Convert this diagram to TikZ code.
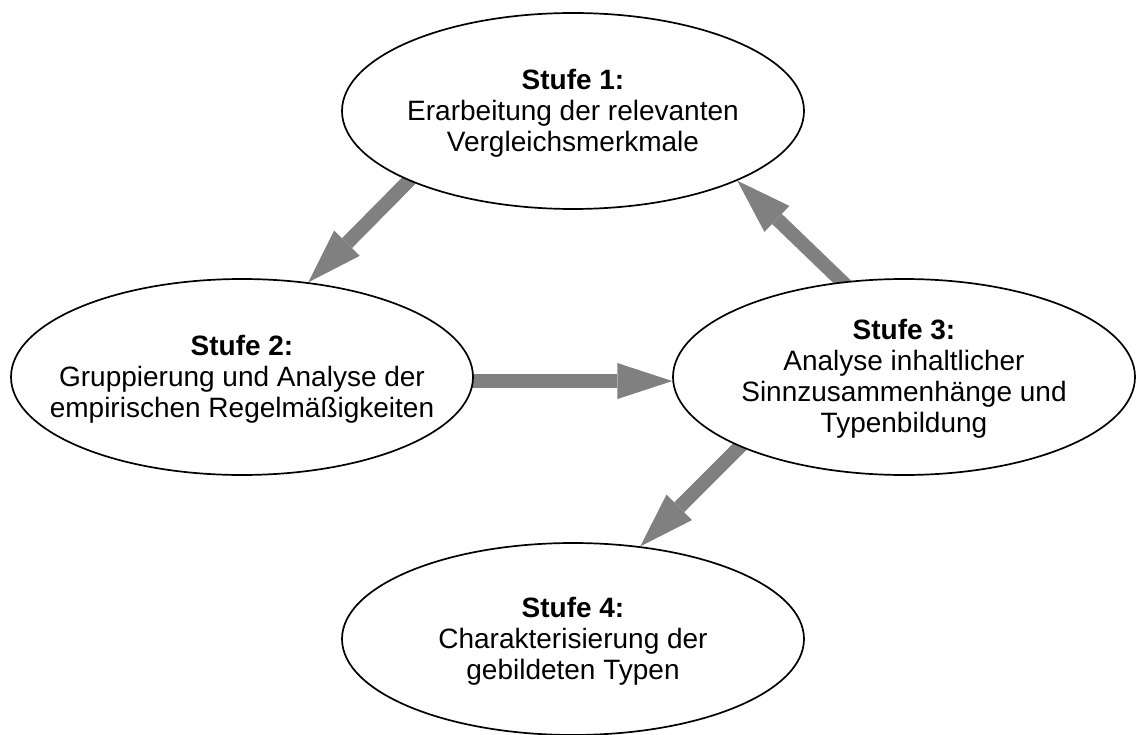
\documentclass[tikz,border=0pt]{standalone}
\usepackage{fontspec}
\setmainfont{Liberation Sans}
\usetikzlibrary{shapes.geometric,arrows.meta,backgrounds}
\definecolor{flowgray}{HTML}{808080}
\begin{document}
\begin{tikzpicture}[x=1pt,y=-1pt,
  stage/.style={ellipse,draw=black,line width=1.7pt,fill=white,
    minimum width=462pt,minimum height=196pt,inner sep=0pt},
  stagetext/.style={align=center,inner sep=0pt,
    font=\fontsize{28}{31}\selectfont},
  flow/.style={draw=flowgray,line width=14pt,shorten <=-8pt,
    -{Triangle[length=55pt,width=36pt,line width=0pt]}}]
\useasboundingbox (0,0) rectangle (1137,735);

% the four stages
\node[stage] (e1) at (573,111) {};
\node[stage] (e2) at (242,377) {};
\node[stage] (e3) at (904,377) {};
\node[stage,minimum height=192pt] (e4) at (573,639) {};

\node[stagetext] (t1) at ([yshift=-2pt]e1.center)
  {\textbf{Stufe 1:}\\Erarbeitung der relevanten\\Vergleichsmerkmale};
\node[stagetext] (t2) at ([yshift=-2pt]e2.center)
  {\textbf{Stufe 2:}\\Gruppierung und Analyse der\\empirischen Regelmäßigkeiten};
\node[stagetext] (t3) at ([yshift=-2pt]e3.center)
  {\textbf{Stufe 3:}\\Analyse inhaltlicher\\Sinnzusammenhänge und\\Typenbildung};
\node[stagetext] (t4) at ([yshift=-2pt]e4.center)
  {\textbf{Stufe 4:}\\Charakterisierung der\\gebildeten Typen};

% flow arrows, tails tucked under the ellipses
\begin{scope}[on background layer]
  \fill[white] (0,0) rectangle (1137,735);
  \draw[flow] (e1.203) -- (e2.55);
  \draw[flow] (e2.-1) -- (e3.181);
  \draw[flow] (e3.123) -- (e1.337);
  \draw[flow] (e3.203) -- (e4.54);
\end{scope}
\end{tikzpicture}
\end{document}
